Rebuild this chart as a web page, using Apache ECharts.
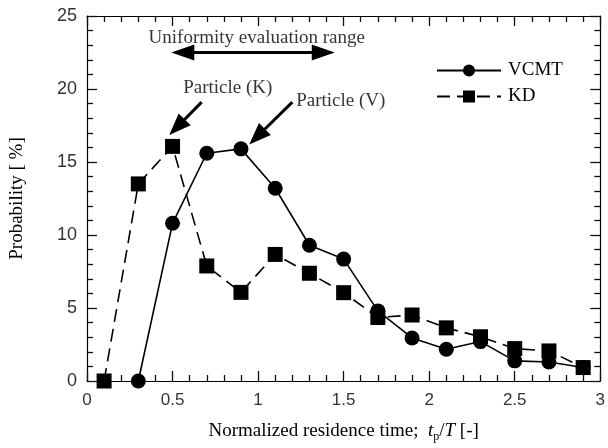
<!DOCTYPE html>
<html><head><meta charset="utf-8">
<script src="https://cdn.jsdelivr.net/npm/echarts@6/dist/echarts.min.js"></script>
<style>html,body{margin:0;padding:0;background:#fff}#c{width:608px;height:448px}</style>
</head><body><div id="c"></div>
<script>
// Data
const vcmtX = [0.3, 0.5, 0.7, 0.9, 1.1, 1.3, 1.5, 1.7, 1.9, 2.1, 2.3, 2.5, 2.7, 2.9];
const vcmtY = [0, 10.8, 15.6, 15.9, 13.2, 9.3, 8.35, 4.8, 2.95, 2.17, 2.7, 1.38, 1.3, 0.92];
const kdX = [0.1, 0.3, 0.5, 0.7, 0.9, 1.1, 1.3, 1.5, 1.7, 1.9, 2.1, 2.3, 2.5, 2.7, 2.9];
const kdY = [0, 13.5, 16.07, 7.88, 6.07, 8.67, 7.38, 6.05, 4.35, 4.52, 3.64, 3.03, 2.22, 2.06, 0.92];
const seriesNames = ['VCMT', 'KD'];
const xTicks = [0, 0.5, 1, 1.5, 2, 2.5, 3];
const yTicks = [0, 5, 10, 15, 20, 25];
// Annotations (text labels and arrows, in data coordinates)
const noteTexts = ['Uniformity evaluation range', 'Particle (K)', 'Particle (V)'];
const notePos = [[0.992, 23.5], [0.823, 20.1], [1.483, 19.15]];
const rangeArrow = [[0.56, 22.5], [1.381, 22.5]];
const arrowK = [[0.67, 19.1], [0.526, 17.38]];
const arrowV = [[1.20, 19.1], [0.994, 16.73]];

const serif = 'Liberation Serif';
const sans = 'Liberation Sans';
const chart = echarts.init(document.getElementById('c'));

function axisParts() {
  return {
    axisLine: {show: true, onZero: false, lineStyle: {color: '#000', width: 1.2}},
    axisTick: {show: true, inside: true, length: 10, lineStyle: {color: '#111', width: 1.3}},
    minorTick: {show: true, splitNumber: 5, length: 6, lineStyle: {color: '#111', width: 1.3}},
    splitLine: {show: false}
  };
}

chart.setOption({
  animation: false,
  backgroundColor: '#fff',
  grid: {left: 87, right: 7, top: 16, bottom: 64},
  legend: {
    data: seriesNames, orient: 'vertical', left: 431, top: 56,
    itemWidth: 64, itemHeight: 15, itemGap: 7,
    textStyle: {fontFamily: serif, fontSize: 19, color: '#000', padding: [0,0,0,2]}
  },
  xAxis: [
    Object.assign(axisParts(), {type: 'value', min: xTicks[0], max: xTicks[xTicks.length-1], interval: 0.5, position: 'bottom',
      axisLabel: {fontFamily: sans, fontSize: 17, color: '#333', margin: 11},
      name: '{n|Normalized residence time;  }{i|t}{s|p}{n|/}{i|T}{n| [-]}',
      nameLocation: 'middle', nameGap: 38,
      nameTextStyle: {rich: {
        n: {fontFamily: serif, fontSize: 19, color: '#000', lineHeight: 24},
        i: {fontFamily: serif, fontSize: 19, fontStyle: 'italic', color: '#000', lineHeight: 24},
        s: {fontFamily: serif, fontSize: 12, color: '#000', lineHeight: 12, verticalAlign: 'bottom'}
      }}
    }),
    Object.assign(axisParts(), {type: 'value', min: 0, max: 3, interval: 0.5, position: 'top', axisLabel: {show: false}})
  ],
  yAxis: [
    Object.assign(axisParts(), {type: 'value', min: yTicks[0], max: yTicks[yTicks.length-1], interval: 5, position: 'left',
      axisLabel: {fontFamily: sans, fontSize: 18, color: '#333', margin: 10},
      name: 'Probability [ %]', nameLocation: 'middle', nameGap: 60,
      nameTextStyle: {fontFamily: serif, fontSize: 19, color: '#000'}
    }),
    Object.assign(axisParts(), {type: 'value', min: 0, max: 25, interval: 5, position: 'right', axisLabel: {show: false}})
  ],
  series: [
    {
      name: 'VCMT', type: 'line', data: vcmtX.map((x, i) => [x, vcmtY[i]]),
      symbol: 'circle', symbolSize: 15, color: '#000',
      lineStyle: {color: '#000', width: 1.6}, itemStyle: {color: '#000'}, z: 3,
      markLine: {
        silent: true, animation: false, symbolSize: [17, 22],
        label: {show: false},
        lineStyle: {color: '#000', width: 3, type: 'solid'},
        emphasis: {disabled: true},
        data: [
          [{coord: rangeArrow[0], symbol: 'triangle', symbolSize: [16, 23]}, {coord: rangeArrow[1], symbol: 'triangle', symbolSize: [16, 23]}],
          [{coord: arrowK[0], symbol: 'none'}, {coord: arrowK[1], symbol: 'triangle'}],
          [{coord: arrowV[0], symbol: 'none'}, {coord: arrowV[1], symbol: 'triangle'}]
        ]
      }
    },
    {
      name: 'KD', type: 'line', data: kdX.map((x, i) => [x, kdY[i]]),
      symbol: 'rect', symbolSize: 15, color: '#000',
      lineStyle: {color: '#000', width: 1.6, type: [13, 7]}, itemStyle: {color: '#000'}, z: 3
    },
    {
      name: 'notes', type: 'scatter', symbolSize: 1, itemStyle: {color: 'transparent'}, silent: true,
      data: notePos.map((p, i) => ({value: p, name: noteTexts[i]})),
      label: {show: true, position: 'inside', formatter: p => p.name,
        fontFamily: serif, fontSize: 19, color: '#000'}
    }
  ]
});
</script></body></html>
